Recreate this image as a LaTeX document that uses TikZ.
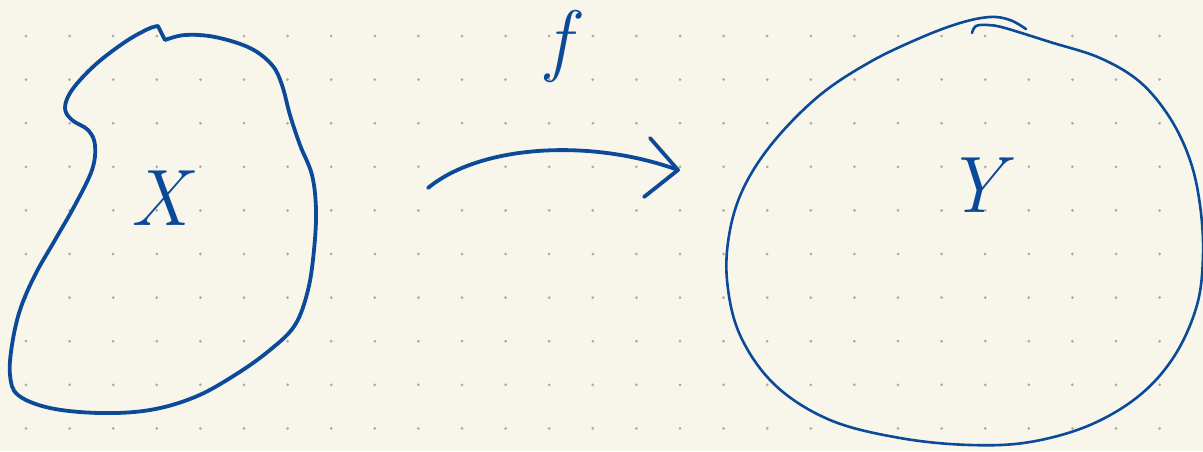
\documentclass[tikz,border=0pt]{standalone}
\usetikzlibrary{calc}
\definecolor{paper}{HTML}{F8F6EB}
\definecolor{ink}{HTML}{0B4A98}
\definecolor{dotc}{HTML}{ADAA9E}
\tikzset{
  pen/.style={draw=ink, line width=3.8pt, line cap=round, line join=round},
  thinpen/.style={draw=ink, line width=2.6pt, line cap=round, line join=round},
  hand/.style={text=ink, font=\fontsize{80}{80}\selectfont\itshape, inner sep=0pt},
}
\begin{document}
\begin{tikzpicture}[x=1pt, y=-1pt]
\fill[paper] (0,0) rectangle (1203,451);
\useasboundingbox (0,0) rectangle (1203,451);
% dot grid
\foreach \i in {0,...,26} {
  \foreach \j in {0,...,9} {
    \fill[dotc] ({26+43.6*\i},{36+43.6*\j}) circle (1.5);
  }
}
% blob X
\draw[pen] plot[smooth, tension=0.6] coordinates {
  (165,40) (185,35) (215,37) (250,48) (272,65) (282,85) (290,115) (300,145)
  (312,175) (316,210) (314,250) (308,290) (295,325) (270,350) (235,375)
  (195,397) (150,410) (100,413) (50,408) (18,395) (10,375) (12,345) (20,310)
  (35,275) (55,240) (75,205) (92,170) (95,145) (88,130) (72,120) (65,108)
  (72,90) (95,65) (125,42) (148,29) (158,26)} -- (165,40);
% blob Y
\draw[thinpen] plot[smooth, tension=0.6] coordinates {
  (972,33) (976,26) (988,25) (1005,28) (1050,42) (1100,58) (1140,82)
  (1170,118) (1190,160) (1200,205) (1203,255) (1197,305) (1175,355)
  (1140,395) (1090,425) (1030,442) (970,445) (900,438) (830,420) (775,385)
  (740,335) (727,280) (730,230) (745,185) (775,140) (820,95) (870,62)
  (920,38) (960,23) (990,17) (1010,20) (1026,29)};
% labels
\node[hand] (lx) at (160,198) {X};
\node[hand] (lf) at (558,46) {f};
\node[hand] (ly) at (975,185) {Y};
% arrow f
\coordinate (fstart) at (428,188);
\coordinate (fend) at (678,170);
\draw[pen] (fstart) .. controls (480,145) and (590,138) .. (fend);
\draw[pen] (650,138) -- (fend) -- (644,197);
\end{tikzpicture}
\end{document}
